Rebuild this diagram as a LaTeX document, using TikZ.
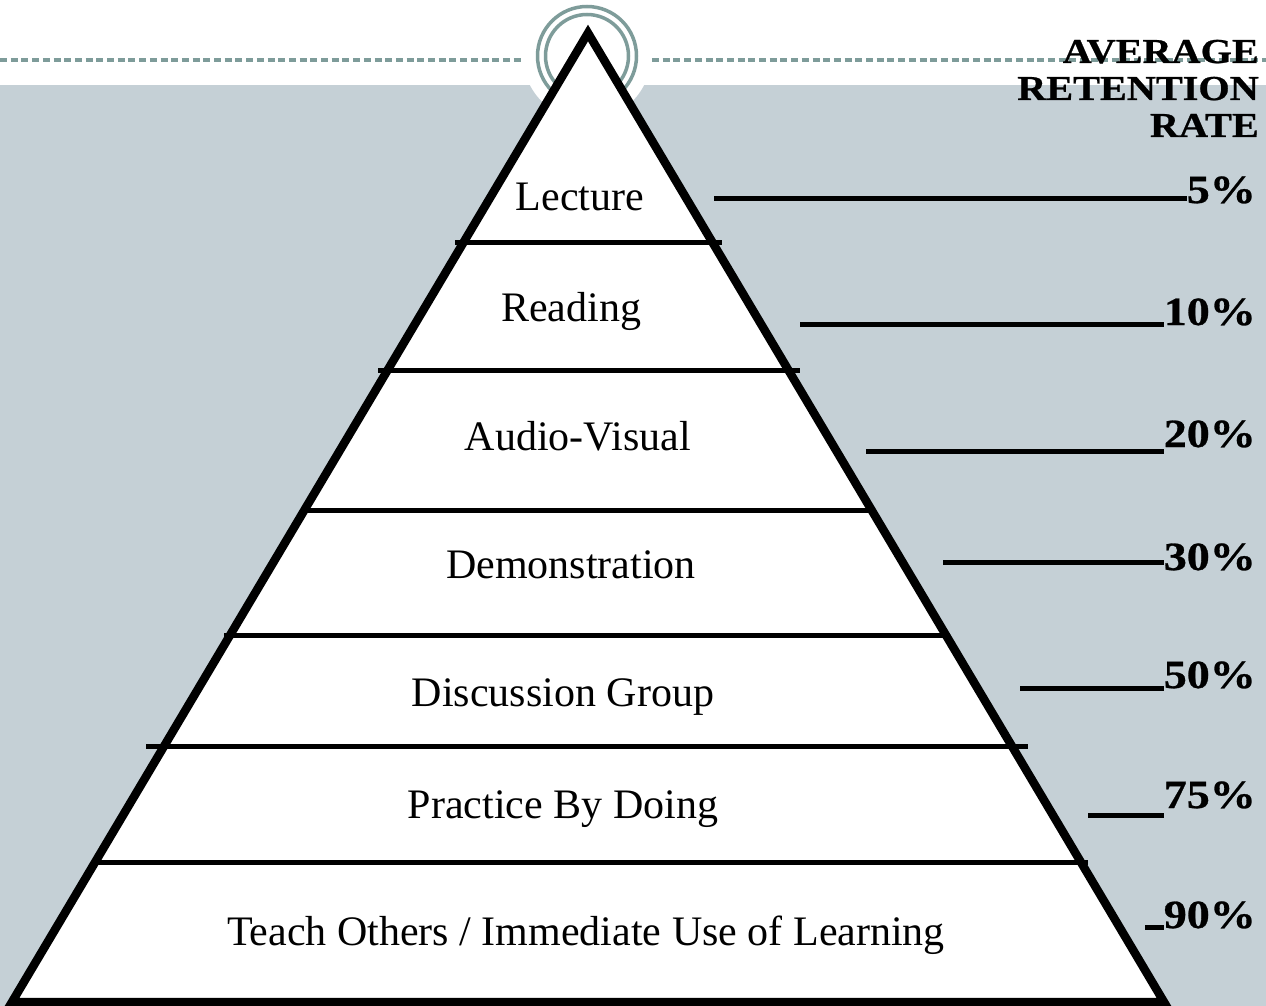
\documentclass[tikz,border=0pt]{standalone}
\usepackage{fontspec}
\setmainfont{Liberation Serif}
\newfontfamily\ratefont{Liberation Serif}[FakeStretch=1.15, FakeBold=0.7]
\usetikzlibrary{positioning}
\definecolor{slatebg}{RGB}{197,208,214}
\definecolor{ringcol}{RGB}{126,156,154}

\begin{document}
\begin{tikzpicture}[x=1pt, y=-1pt,
	layer/.style={font=\fontsize{42}{48}\selectfont, anchor=base, inner sep=0pt},
	rate/.style={font=\ratefont\bfseries\fontsize{40}{48}\selectfont, anchor=base east, inner sep=0pt},
	head/.style={font=\ratefont\bfseries\fontsize{35}{40}\selectfont, anchor=base east, inner sep=0pt},
	divider/.style={line width=5pt},
	tick/.style={line width=5pt}
	]
	\useasboundingbox (0,0) rectangle (1266,1006);
	\fill[slatebg] (0,85) rectangle (1266,1006);
	\fill[white] (587,56) circle (64);
	\draw[ringcol, line width=3.5pt, dash pattern=on 7pt off 3.7pt] (0,60) -- (522,60) (652,60) -- (1266,60);
	\draw[ringcol, line width=3.5pt] (587,56) circle (49.5) (587,56) circle (41.5);

	\coordinate (apex) at (588,33);
	\coordinate (bl) at (12,1002);
	\coordinate (br) at (1164,1002);
	\filldraw[fill=white, line width=8.5pt] (apex) -- (br) -- (bl) -- cycle;

	\draw[divider] (455,242) -- (722,242);
	\draw[divider] (378,370) -- (800,370);
	\draw[divider] (302,510) -- (875,510);
	\draw[divider] (224,635) -- (950,635);
	\draw[divider] (146,746) -- (1028,746);
	\draw[divider] (92,862) -- (1088,862);

	\node[layer] (lecture) at (580,210) {Lecture};
	\node[layer] (reading) at (571,321) {Reading};
	\node[layer] (audio) at (578,450) {Audio-Visual};
	\node[layer] (demo) at (571,578) {Demonstration};
	\node[layer] (discuss) at (563,706) {Discussion Group};
	\node[layer] (practice) at (563,818) {Practice By Doing};
	\node[layer] (teach) at (586,945) {Teach Others / Immediate Use of Learning};

	\node[head] (avg) at (1259,63) {AVERAGE};
	\node[head] (ret) at (1259,100) {RETENTION};
	\node[head] (rte) at (1259,137) {RATE};

	\node[rate] (r5) at (1256,203) {5\%};
	\node[rate] (r10) at (1256,325) {10\%};
	\node[rate] (r20) at (1256,447) {20\%};
	\node[rate] (r30) at (1256,570) {30\%};
	\node[rate] (r50) at (1256,688) {50\%};
	\node[rate] (r75) at (1256,808) {75\%};
	\node[rate] (r90) at (1256,928) {90\%};

	\coordinate (t5) at (714,198);
	\coordinate (t10) at (800,324);
	\coordinate (t20) at (866,451);
	\coordinate (t30) at (943,562);
	\coordinate (t50) at (1020,688);
	\coordinate (t75) at (1088,815);
	\coordinate (t90) at (1145,927);

	\draw[tick] (t5) -- (t5 -| r5.west);
	\draw[tick] (t10) -- (t10 -| r10.west);
	\draw[tick] (t20) -- (t20 -| r20.west);
	\draw[tick] (t30) -- (t30 -| r30.west);
	\draw[tick] (t50) -- (t50 -| r50.west);
	\draw[tick] (t75) -- (t75 -| r75.west);
	\draw[tick] (t90) -- (t90 -| r90.west);
\end{tikzpicture}
\end{document}
